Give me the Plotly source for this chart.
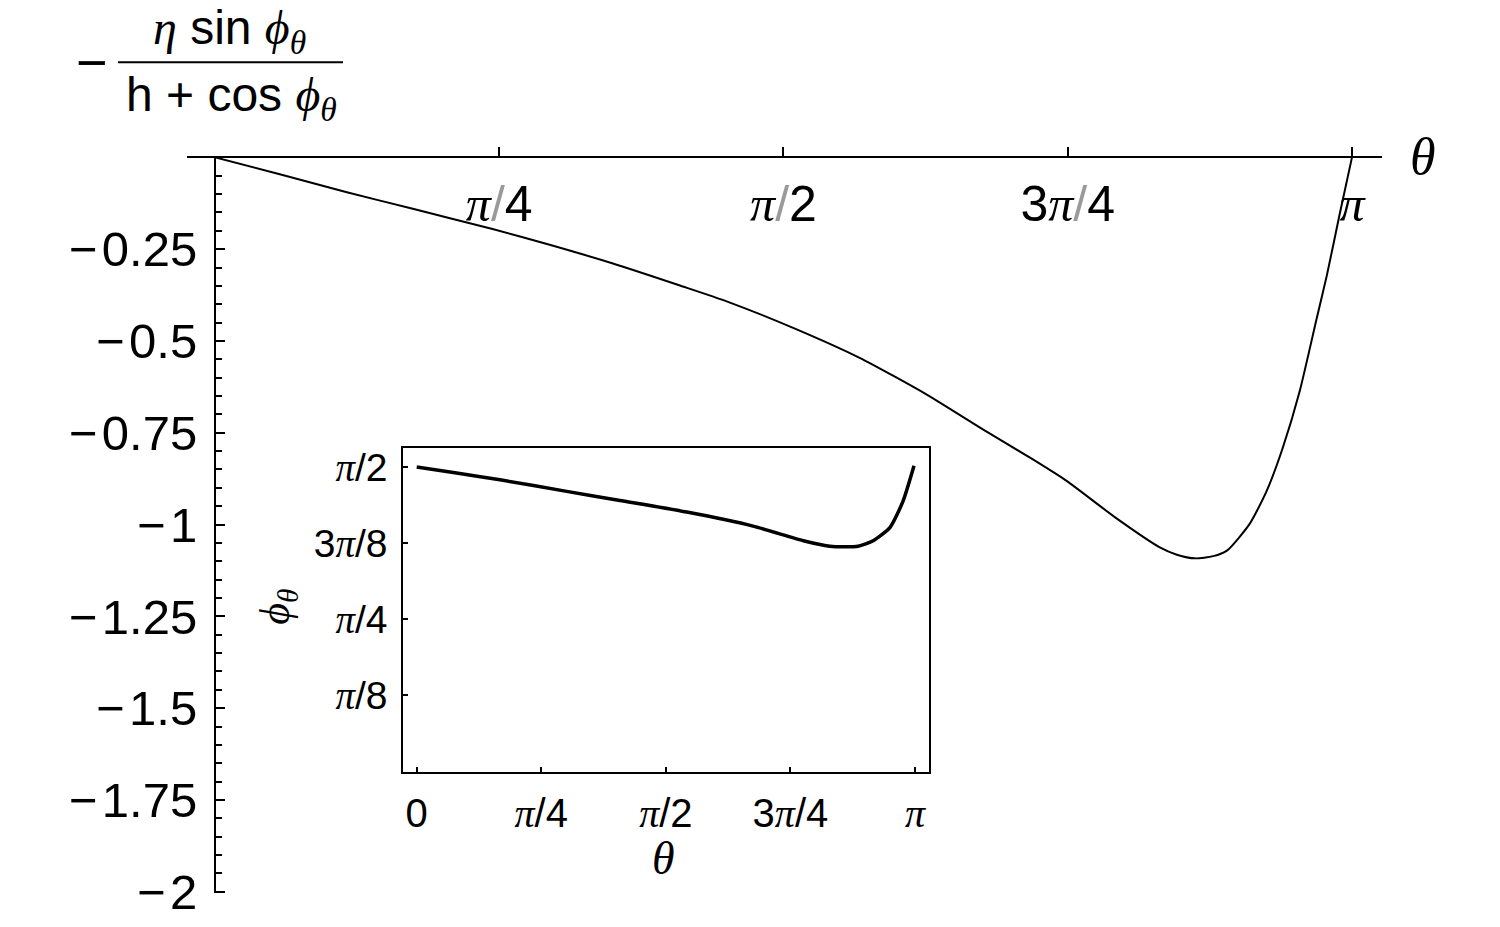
import plotly.graph_objects as go

# ---- data (theta in units of pi) ----
# main curve: -eta sin(phi_theta) / (h + cos(phi_theta))
theta_main = [0.0, 0.057, 0.116, 0.174, 0.245, 0.292, 0.350, 0.409, 0.450, 0.509,
              0.567, 0.626, 0.675, 0.719, 0.749, 0.792, 0.831, 0.846, 0.862, 0.878,
              0.890, 0.910, 0.925, 0.939, 0.954, 0.969, 0.978, 0.989, 1.0]
ratio_main = [0.0, -0.046, -0.095, -0.140, -0.196, -0.236, -0.289, -0.349, -0.392, -0.465,
              -0.546, -0.646, -0.740, -0.822, -0.881, -0.981, -1.062, -1.082, -1.092, -1.086,
              -1.071, -0.998, -0.908, -0.792, -0.637, -0.438, -0.320, -0.157, 0.0]

# inset: phi_theta (units of pi) vs theta
theta_inset = [0.0, 0.080, 0.167, 0.301, 0.408, 0.542, 0.675, 0.776, 0.829, 0.858,
               0.886, 0.916, 0.950, 0.976, 0.998]
phi_inset = [0.500, 0.490, 0.479, 0.460, 0.445, 0.426, 0.403, 0.379, 0.370, 0.369,
             0.370, 0.379, 0.401, 0.444, 0.502]

main_xticks = [0.25, 0.5, 0.75, 1.0]
main_yticks = [-0.25, -0.5, -0.75, -1.0, -1.25, -1.5, -1.75, -2.0]
main_ylabels = ["0.25", "0.5", "0.75", "1", "1.25", "1.5", "1.75", "2"]
inset_xticks = [0.0, 0.25, 0.5, 0.75, 1.0]
inset_yticks = [0.125, 0.25, 0.375, 0.5]

# ---- helpers ----
# positions are given in reference pixels (1500 x 927) and turned into paper fractions
W, H = 1500, 927
FIG_H = 953  # the captured page area is a little taller than the window
SANS = "Liberation Sans"
SERIF = "Liberation Serif, DejaVu Serif"


def px(x):
    return x / W


def py(y):
    return 1 - y / H


PI = '<span style="font-family:Liberation Serif"><i>π</i></span>'


def pi_label(num, den, slash_color="black"):
    slash = '<span style="color:%s">/</span>' % slash_color
    head = (num if num else "") + PI
    return head + (slash + den if den else "")


main_xtext = [pi_label("", "4", "#9a9a9a"), pi_label("", "2", "#9a9a9a"),
              pi_label("3", "4", "#9a9a9a"), pi_label("", "")]
main_ytext = ["\u2212\u200a" + s for s in main_ylabels]
inset_xtext = ["0", pi_label("", "4"), pi_label("", "2"), pi_label("3", "4"), pi_label("", "")]
inset_ytext = [pi_label("", "8"), pi_label("", "4"), pi_label("3", "8"), pi_label("", "2")]

fig = go.Figure()

fig.add_trace(go.Scatter(
    x=theta_main, y=ratio_main, mode="lines",
    line=dict(color="black", width=2, shape="spline", smoothing=0.6),
    xaxis="x", yaxis="y", showlegend=False, hoverinfo="skip"
))
fig.add_trace(go.Scatter(
    x=theta_inset, y=phi_inset, mode="lines",
    line=dict(color="black", width=3.5, shape="spline", smoothing=0.6),
    xaxis="x2", yaxis="y2", showlegend=False, hoverinfo="skip"
))

axis_common = dict(showgrid=False, zeroline=False, showline=True, linecolor="black",
                   tickcolor="black", ticks="inside")

fig.update_layout(
    width=W, height=FIG_H, autosize=False,
    margin=dict(l=0, r=0, t=0, b=0),
    paper_bgcolor="white", plot_bgcolor="white",
    xaxis=dict(
        **axis_common,
        domain=[px(187), px(1382)], range=[-0.0246, 1.0264],
        anchor="free", position=py(155.7), side="bottom",
        linewidth=2, ticklen=9, tickwidth=2,
        tickvals=main_xticks, ticktext=main_xtext,
        tickfont=dict(family=SANS, size=50, color="black"),
        ticklabelstandoff=3,
    ),
    yaxis=dict(
        **axis_common,
        domain=[py(893), py(155.7)], range=[-2.0035, 0],
        anchor="free", position=px(215), side="left",
        linewidth=2, ticklen=9, tickwidth=2,
        tickvals=main_yticks, ticktext=main_ytext,
        tickfont=dict(family=SANS, size=49, color="black"),
        ticklabelstandoff=7,
        minor=dict(ticks="inside", tick0=0, dtick=0.05, ticklen=6, tickwidth=1.5,
                   tickcolor="black"),
    ),
    xaxis2=dict(
        **axis_common,
        domain=[px(403.3), px(929.3)], range=[-0.0269, 1.0287],
        anchor="y2", mirror=True, linewidth=2, ticklen=5, tickwidth=1.5,
        tickvals=inset_xticks, ticktext=inset_xtext,
        tickfont=dict(family=SANS, size=40, color="black"),
        ticklabelstandoff=5,
    ),
    yaxis2=dict(
        **axis_common,
        domain=[py(771.3), py(447.3)], range=[0, 0.5306],
        anchor="x2", mirror=True, linewidth=2, ticklen=5, tickwidth=1.5,
        tickvals=inset_yticks, ticktext=inset_ytext,
        tickfont=dict(family=SANS, size=39, color="black"),
        ticklabelstandoff=6,
    ),
)

phi_th = ('<span style="font-family:Liberation Serif, DejaVu Serif">'
          '<i>\u03d5</i><sub><i>θ</i></sub></span>')
eta = '<span style="font-family:Liberation Serif"><i>η</i></span>'

annotations = [
    # main theta axis label
    dict(x=px(1423), y=py(155), text="<i>θ</i>", font=dict(family=SERIF, size=52)),
    # inset axis labels
    dict(x=px(663), y=py(858), text="<i>θ</i>", font=dict(family=SERIF, size=46)),
    dict(x=px(278), y=py(606), text="<i>\u03d5</i><sub><i>θ</i></sub>", textangle=-90,
         font=dict(family=SERIF, size=42)),
    # y-axis label as a fraction
    dict(x=px(92), y=py(60), text="\u2212", font=dict(family=SANS, size=54)),
    dict(x=px(230), y=py(29), text=eta + " sin " + phi_th, font=dict(family=SANS, size=48)),
    dict(x=px(231), y=py(96), text="h + cos " + phi_th, font=dict(family=SANS, size=48)),
]
for a in annotations:
    a.update(xref="paper", yref="paper", showarrow=False, xanchor="center", yanchor="middle")
    a["font"]["color"] = "black"
fig.update_layout(annotations=annotations)

fig.add_shape(type="line", xref="paper", yref="paper",
              x0=px(118), x1=px(343), y0=py(60.5), y1=py(60.5),
              line=dict(color="black", width=2))

fig.write_html(
    "out.html",
    config={"displayModeBar": False},
    post_script="document.body.style.margin='0';document.body.style.overflow='hidden';",
)
